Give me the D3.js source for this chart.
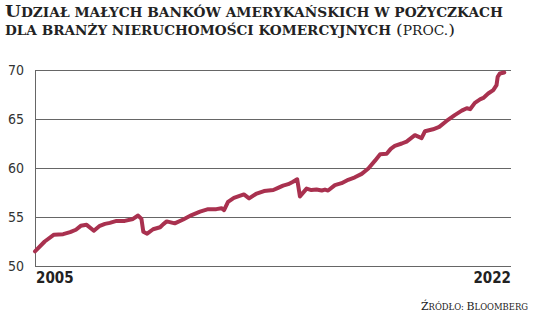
<!DOCTYPE html>
<html>
<head>
<meta charset="utf-8">
<script src="https://cdn.jsdelivr.net/npm/d3@7"></script>
<style>
  html, body { margin: 0; padding: 0; background: #fff; }
  svg { display: block; }
</style>
</head>
<body>
<svg id="chart" width="536" height="317"></svg>
<script>
const dates = [
  "2005-01-01","2005-05-15","2005-09-20","2006-01-25","2006-05-01","2006-07-20","2006-09-25","2006-12-15",
  "2007-03-25","2007-06-15","2007-08-25","2007-11-01","2008-02-01","2008-05-25","2008-09-15","2008-11-25",
  "2009-01-10","2009-02-05","2009-03-30","2009-06-20","2009-09-25","2009-11-05","2009-12-25","2010-04-15",
  "2010-08-10","2010-12-05","2011-03-30","2011-07-20","2011-11-10","2012-01-20","2012-02-25","2012-04-20",
  "2012-07-10","2012-11-25","2013-02-05","2013-05-10","2013-08-30","2014-01-05","2014-03-05","2014-05-20",
  "2014-07-30","2014-10-05","2014-12-01","2015-01-08","2015-04-10","2015-06-15","2015-08-25","2015-11-05",
  "2015-12-20","2016-02-01","2016-05-05","2016-08-05","2016-11-05","2017-02-05","2017-05-10","2017-08-10",
  "2017-11-10","2018-01-20","2018-04-20","2018-06-15","2018-08-10","2018-11-15","2019-01-20","2019-05-15",
  "2019-08-15","2019-10-01","2020-01-20","2020-04-15","2020-07-25","2020-11-15","2021-02-20","2021-04-30",
  "2021-06-15","2021-08-20","2021-10-30","2021-12-15","2022-02-20","2022-05-01","2022-06-15","2022-07-01",
  "2022-08-01","2022-09-30"
];
const shares = [
  51.5, 52.5, 53.2, 53.25, 53.45, 53.7, 54.1, 54.2,
  53.6, 54.1, 54.3, 54.4, 54.6, 54.6, 54.8, 55.15,
  54.8, 53.5, 53.3, 53.75, 53.95, 54.25, 54.55, 54.35,
  54.75, 55.2, 55.55, 55.8, 55.8, 55.9, 55.7, 56.55,
  56.95, 57.3, 56.9, 57.35, 57.65, 57.75, 57.95, 58.2,
  58.35, 58.6, 58.85, 57.1, 57.9, 57.75, 57.8, 57.7,
  57.8, 57.7, 58.25, 58.45, 58.8, 59.05, 59.4, 59.95,
  60.75, 61.4, 61.45, 61.95, 62.25, 62.5, 62.7, 63.35,
  63.05, 63.75, 63.95, 64.2, 64.8, 65.4, 65.85, 66.1,
  66.0, 66.65, 67.0, 67.15, 67.6, 67.95, 68.45, 69.3,
  69.65, 69.75
];
const yTicks = [50, 55, 60, 65, 70];
const xDomain = ["2005-01-01", "2023-01-01"];
const xLabels = ["2005", "2022"];
const titleLine1 = ["U", "DZIAŁ MAŁYCH BANKÓW AMERYKAŃSKICH W POŻYCZKACH"];
const titleLine2 = ["DLA BRANŻY NIERUCHOMOŚCI KOMERCYJNYCH", "PROC."];
const sourceText = ["Ź", "RÓDŁO: ", "B", "LOOMBERG"];

(function () {
const parse = d3.timeParse("%Y-%m-%d");
const data = dates.map((d, i) => ({ date: parse(d), value: shares[i] }));

const svg = d3.select("#chart");
const mLeft = 35, mRight = 511, mTop = 70, mBottom = 266;

const x = d3.scaleTime().domain(xDomain.map(parse)).range([mLeft, mRight]);
const y = d3.scaleLinear().domain([50, 70]).range([mBottom, mTop]);

const serif = "'DejaVu Serif', serif";
const cond = "'DejaVu Sans Condensed', 'Liberation Sans Narrow', sans-serif";

// grid + y axis
const yAxis = d3.axisLeft(y).tickValues(yTicks).tickSize(-(mRight - mLeft)).tickPadding(11).tickFormat(d3.format("d"));
const gy = svg.append("g").attr("transform", `translate(${mLeft},0)`).call(yAxis);
gy.select(".domain").remove();
gy.selectAll(".tick line").attr("stroke", "#666").attr("stroke-width", 1).attr("shape-rendering", "crispEdges");
gy.selectAll(".tick text")
  .attr("font-family", cond).attr("font-size", 14).attr("fill", "#333")
  .attr("font-stretch", "condensed");

// left vertical axis line
svg.append("line")
  .attr("x1", mLeft).attr("x2", mLeft).attr("y1", y(70)).attr("y2", y(50))
  .attr("stroke", "#666").attr("stroke-width", 1).attr("shape-rendering", "crispEdges");

// x labels
const xDates = xDomain.map(parse);
svg.append("text").attr("x", x(xDates[0]) + 1).attr("y", 283)
  .attr("font-family", cond).attr("font-size", 15).attr("font-weight", "bold").attr("fill", "#222")
  .attr("text-anchor", "start").text(xLabels[0]);
svg.append("text").attr("x", x(xDates[1])).attr("y", 283)
  .attr("font-family", cond).attr("font-size", 15).attr("font-weight", "bold").attr("fill", "#222")
  .attr("text-anchor", "end").text(xLabels[1]);

// line
const line = d3.line().x(d => x(d.date)).y(d => y(d.value)).curve(d3.curveLinear);
svg.append("path").datum(data)
  .attr("d", line)
  .attr("fill", "none")
  .attr("stroke", "#a9314f")
  .attr("stroke-width", 4)
  .attr("stroke-linejoin", "round")
  .attr("stroke-linecap", "round");

// title
const t1 = svg.append("text").attr("x", 5).attr("y", 17)
  .attr("font-family", serif).attr("font-weight", "bold").attr("fill", "#222")
  .attr("textLength", 498).attr("lengthAdjust", "spacingAndGlyphs");
t1.append("tspan").attr("font-size", 16).text(titleLine1[0]);
t1.append("tspan").attr("font-size", 12).text(titleLine1[1]);

svg.append("text").attr("x", 5).attr("y", 35)
  .attr("font-family", serif).attr("font-weight", "bold").attr("fill", "#222")
  .attr("font-size", 12)
  .attr("textLength", 386).attr("lengthAdjust", "spacingAndGlyphs")
  .text(titleLine2[0]);
const t2b = svg.append("text").attr("x", 396).attr("y", 35)
  .attr("font-family", serif).attr("fill", "#222")
  .attr("textLength", 59).attr("lengthAdjust", "spacingAndGlyphs");
t2b.append("tspan").attr("font-size", 15).text("(");
t2b.append("tspan").attr("font-size", 12).text(titleLine2[1]);
t2b.append("tspan").attr("font-size", 15).text(")");

// source
const src = svg.append("text").attr("x", 421).attr("y", 309.5)
  .attr("font-family", serif).attr("fill", "#222")
  .attr("textLength", 107).attr("lengthAdjust", "spacingAndGlyphs");
src.append("tspan").attr("font-size", 11).text(sourceText[0]);
src.append("tspan").attr("font-size", 8.5).text(sourceText[1]);
src.append("tspan").attr("font-size", 11).text(sourceText[2]);
src.append("tspan").attr("font-size", 8.5).text(sourceText[3]);
})();
</script>
</body>
</html>
